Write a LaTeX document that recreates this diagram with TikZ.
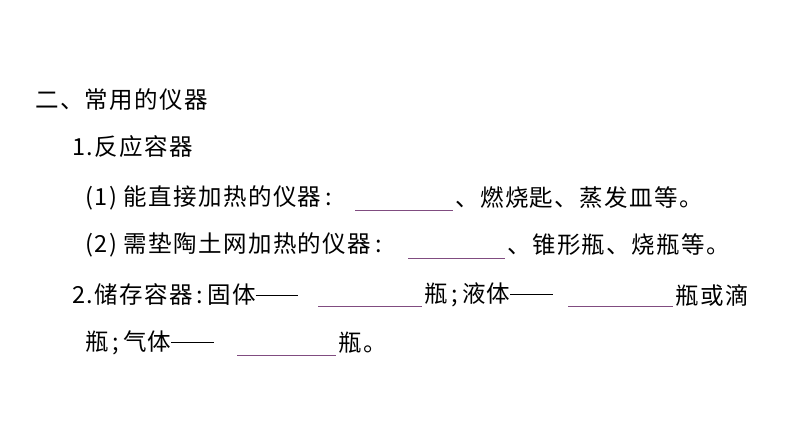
\documentclass[tikz,border=0pt]{standalone}
\usepackage{fontspec}
\setmainfont[LetterSpace=6]{Noto Sans CJK SC}
\newcommand{\dsh}{\rule[0.33em]{1.8em}{1pt}}
\begin{document}
\begin{tikzpicture}[x=1pt,y=-1pt,
  t/.style={anchor=west,inner sep=0pt,font=\fontsize{23.5}{24}\selectfont},
  te/.style={t,anchor=east},
  blank/.style={draw=violet!40!gray,line width=0.8pt}]
\useasboundingbox (0,0) rectangle (794,447);
\node[t] (a) at (35,100) {二、常用的仪器};
\node[t] (b) at (72,147) {1.反应容器};
\node[t] (c1) at (85,198) {(1) 能直接加热的仪器\,:};
\coordinate (l1a) at (355,210); \coordinate (l1b) at (453,210);
\draw[blank] (l1a) -- (l1b);
\node[t] (c2) at (455,198) {、燃烧匙、蒸发皿等。};
\node[t] (d1) at (85,245) {(2) 需垫陶土网加热的仪器\,:};
\coordinate (l2a) at (408,258); \coordinate (l2b) at (505,258);
\draw[blank] (l2a) -- (l2b);
\node[t] (d2) at (507,245) {、锥形瓶、烧瓶等。};
\node[t] (e1) at (72,295) {2.储存容器\,:\,固体\dsh};
\coordinate (l3a) at (318,306); \coordinate (l3b) at (422,306);
\draw[blank] (l3a) -- (l3b);
\node[t] (e2) at (424,295) {瓶\,;\,液体\dsh};
\coordinate (l4a) at (568,306); \coordinate (l4b) at (673,306);
\draw[blank] (l4a) -- (l4b);
\node[t] (e3) at (675,295) {瓶或滴};
\node[t] (f1) at (85,343) {瓶\,;\,气体\dsh};
\coordinate (l5a) at (237,355); \coordinate (l5b) at (336,355);
\draw[blank] (l5a) -- (l5b);
\node[t] (f2) at (338,343) {瓶。};
\end{tikzpicture}
\end{document}
